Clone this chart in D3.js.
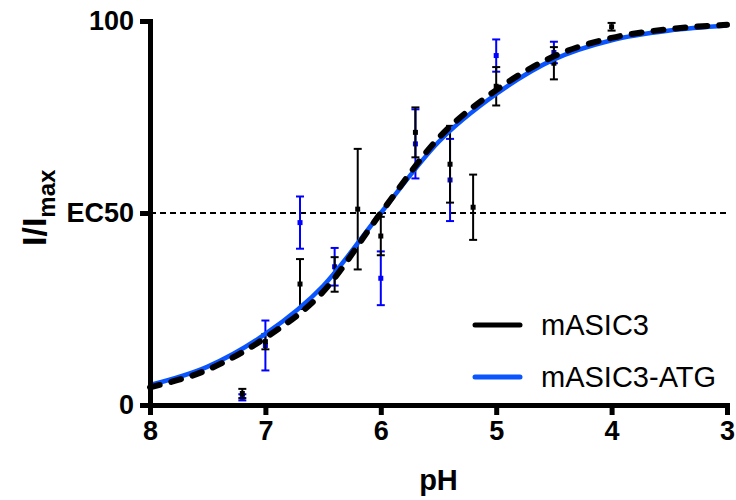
<!DOCTYPE html>
<html>
<head>
<meta charset="utf-8">
<script src="https://cdn.jsdelivr.net/npm/d3@7"></script>
<style>
  body { margin: 0; background: #fff; }
  svg { display: block; font-family: "Liberation Sans", Arial, sans-serif; }
</style>
</head>
<body>
<svg id="chart" width="736" height="500"></svg>
<script>
// measured points, mASIC3 (black)
var blackPH = [7.2, 7.0, 6.7, 6.4, 6.2, 6.0, 5.7, 5.4, 5.2, 5.0, 4.5, 4.0];
var blackMean = [3, 16.5, 31.5, 34, 51, 44, 71, 62.7, 51.5, 83, 89, 98.5];
var blackErr = [1.2, 2, 6.5, 4.5, 15.7, 5, 6.5, 10, 8.5, 5, 4.2, 1];

// measured points, mASIC3-ATG (blue)
var bluePH = [7.2, 7.0, 6.7, 6.4, 6.0, 5.7, 5.4, 5.0, 4.5];
var blueMean = [2, 15.5, 47.5, 36, 33, 68, 58.6, 91, 91.8];
var blueErr = [0.8, 6.5, 6.8, 4.9, 7, 9, 10.7, 4.2, 2.8];

// fitted curves
var fitPH = [8, 7.5, 7, 6.5, 6, 5.5, 5, 4.5, 4, 3.5, 3];
var blackFit = [4.6, 9.2, 17.5, 29.5, 50, 69.5, 82, 90.8, 95.6, 97.9, 99];
var blueFit = [5.2, 10, 18.5, 31, 50, 68.5, 81, 90, 95, 97.5, 98.8];

var xTicks = [8, 7, 6, 5, 4, 3];
var yTicks = [0, 50, 100];
var yTickLabels = ["0", "EC50", "100"];
var seriesNames = ["mASIC3", "mASIC3-ATG"];

var svg = d3.select("#chart");
var x = d3.scaleLinear().domain([8, 3]).range([150, 727]);
var y = d3.scaleLinear().domain([0, 100]).range([405, 21]);

// EC50 reference line
svg.append("line")
	.attr("x1", x(8)).attr("x2", x(3))
	.attr("y1", y(50)).attr("y2", y(50))
	.attr("stroke", "black")
	.attr("stroke-width", 2)
	.attr("stroke-dasharray", "6,4");

function drawPoints(ph, mean, err, color) {
	var g = svg.append("g");
	ph.forEach(function (p, i) {
		var cx = x(p);
		g.append("line")
			.attr("x1", cx).attr("x2", cx)
			.attr("y1", y(mean[i] - err[i])).attr("y2", y(mean[i] + err[i]))
			.attr("stroke", color).attr("stroke-width", 2);
		[mean[i] - err[i], mean[i] + err[i]].forEach(function (v) {
			g.append("line")
				.attr("x1", cx - 4).attr("x2", cx + 4)
				.attr("y1", y(v)).attr("y2", y(v))
				.attr("stroke", color).attr("stroke-width", 2);
		});
		g.append("rect")
			.attr("x", cx - 2.5).attr("y", y(mean[i]) - 2.5)
			.attr("width", 5).attr("height", 5)
			.attr("fill", color);
	});
}

drawPoints(bluePH, blueMean, blueErr, "#0000ff");
drawPoints(blackPH, blackMean, blackErr, "#000000");

var line = d3.line()
	.x(function (d) { return x(d[0]); })
	.y(function (d) { return y(d[1]); })
	.curve(d3.curveMonotoneX);

svg.append("path")
	.datum(d3.zip(fitPH, blueFit))
	.attr("d", line)
	.attr("fill", "none")
	.attr("stroke", "#0a55ff")
	.attr("stroke-width", 4.5);

svg.append("path")
	.datum(d3.zip(fitPH, blackFit))
	.attr("d", line)
	.attr("fill", "none")
	.attr("stroke", "black")
	.attr("stroke-width", 6)
	.attr("stroke-linecap", "round")
	.attr("stroke-dasharray", "10,12");

// axes
var xAxis = svg.append("g")
	.attr("transform", "translate(0," + y(0) + ")")
	.call(d3.axisBottom(x).tickValues(xTicks).tickFormat(d3.format("d")).tickSize(10).tickSizeOuter(0).tickPadding(6));
var yAxis = svg.append("g")
	.attr("transform", "translate(" + x(8) + ",0)")
	.call(d3.axisLeft(y).tickValues(yTicks).tickFormat(function (d, i) { return yTickLabels[i]; }).tickSize(10).tickSizeOuter(0).tickPadding(6));

[xAxis, yAxis].forEach(function (a) {
	a.select(".domain").attr("stroke-width", 5).attr("stroke-linecap", "square");
	a.selectAll(".tick line").attr("stroke-width", 5);
	a.selectAll(".tick text")
		.attr("font-family", "Liberation Sans, Arial, sans-serif")
		.attr("font-size", 27)
		.attr("font-weight", "bold")
		.attr("fill", "black");
});

// axis titles
svg.append("text")
	.attr("x", x(5.5)).attr("y", 490)
	.attr("text-anchor", "middle")
	.attr("font-size", 29)
	.attr("font-weight", "bold")
	.text("pH");

var yl = svg.append("text")
	.attr("transform", "translate(46,246) rotate(-90)")
	.attr("font-size", 34)
	.attr("font-weight", "bold");
yl.append("tspan").text("I/I");
yl.append("tspan").attr("font-size", 24).attr("dy", 9).text("max");

// legend
var legColors = ["black", "#0a55ff"];
seriesNames.forEach(function (name, i) {
	var ly = 325 + i * 52;
	svg.append("line")
		.attr("x1", 475).attr("x2", 520)
		.attr("y1", ly).attr("y2", ly)
		.attr("stroke", legColors[i])
		.attr("stroke-width", 5)
		.attr("stroke-linecap", "round");
	svg.append("text")
		.attr("x", 541).attr("y", ly + 10)
		.attr("font-size", 29)
		.text(name);
});
</script>
</body>
</html>
